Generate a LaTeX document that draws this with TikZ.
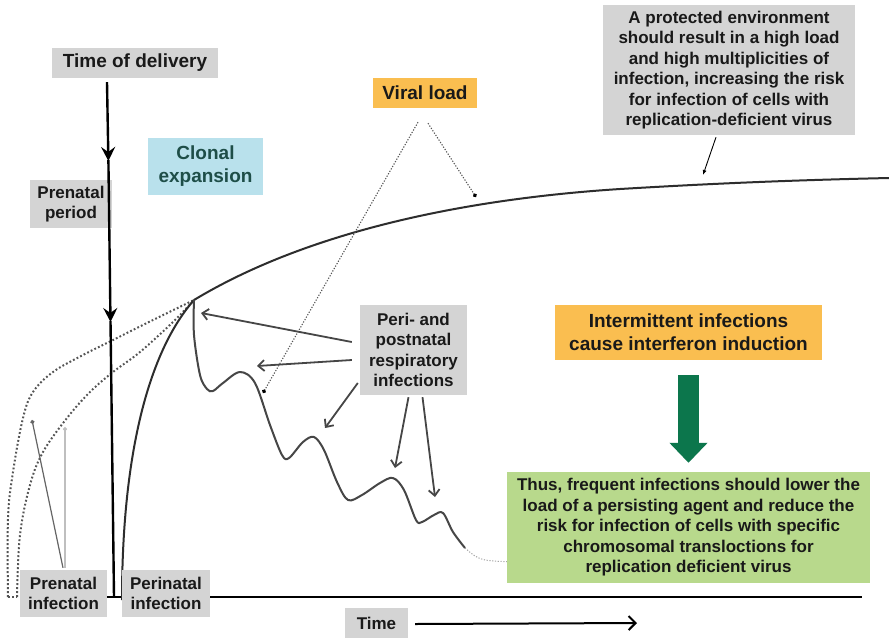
\documentclass[tikz,border=0pt]{standalone}
\usepackage{fontspec}
\setmainfont{Liberation Sans}
\usetikzlibrary{arrows.meta}
\definecolor{boxgray}{RGB}{212,212,212}
\definecolor{boxorange}{RGB}{250,190,80}
\definecolor{boxblue}{RGB}{185,225,236}
\definecolor{boxgreen}{RGB}{184,217,140}
\definecolor{arrowgreen}{RGB}{12,118,76}
\definecolor{clonaltext}{RGB}{30,78,72}
\definecolor{txt}{RGB}{25,25,25}
\definecolor{linegray}{RGB}{70,70,70}
\definecolor{curvegray}{RGB}{45,45,45}
\definecolor{dotgray}{RGB}{85,85,85}
\newcommand\bigfont{\fontsize{19}{23}\selectfont\bfseries}
\newcommand\smallfont{\fontsize{17}{20.5}\selectfont\bfseries}
\begin{document}
\begin{tikzpicture}[x=1pt,y=-1pt,
  box/.style={inner sep=0pt, align=center, text=txt},
  gbox/.style={box, fill=boxgray, font=\smallfont},
  bigbox/.style={box, font=\bigfont},
  dotcurve/.style={draw=dotgray, line width=2pt, dash pattern=on 1.8pt off 2.2pt},
  solidcurve/.style={draw=curvegray, line width=2pt, line join=round},
  periarrow/.style={draw=linegray, line width=1.8pt, -{Straight Barb[length=6pt,width=11pt]}},
  vdot/.style={draw=dotgray, line width=1.1pt, dash pattern=on 1.2pt off 1.6pt, -{Circle[length=4pt,fill=black,color=black]}},
  vaxis/.style={draw=black, line width=2.4pt},
  vtip/.style={-{Stealth[length=14pt,width=14pt,inset=5pt]}},
  pline/.style={line width=1.2pt, -{Circle[length=4pt]}}
]
\useasboundingbox (0,0) rectangle (889,638);
\fill[white] (0,0) rectangle (889,638);

% axis line (behind boxes)
\draw[line width=2.2pt] (106,597) -- (862,597);

% dotted prenatal curves
\draw[dotcurve] plot[smooth, tension=0.6] coordinates {(8,597) (8,518) (13,472) (23,418) (33,392) (53,372) (83,355) (113,340) (153,320) (194,300)};
\draw[dotcurve] plot[smooth, tension=0.6] coordinates {(17,597) (20,535) (30,485) (43,452) (67,418) (90,392) (113,372) (140,352) (173,322) (194,300)};
\draw[dotcurve] (8,597) -- (17,597);

% main solid curve
\draw[solidcurve] (122,600) .. controls (122,450) and (150,350) .. (194,300);
\draw[solidcurve] (194,300) .. controls (300,236) and (450,200) .. (620,189) .. controls (720,183) and (800,180) .. (889,178);

% wavy curve
\draw[solidcurve, draw=linegray] plot[smooth, tension=0.55] coordinates {(194,300) (194,335) (200,375) (207,389) (213,391) (223,383) (240,372) (255,383) (270,425) (282,455) (289,458) (303,442) (314,437) (324,450) (337,482) (348,500) (362,495) (380,483) (393,478) (404,490) (416,520) (422,522) (434,515) (443,513) (453,532) (465,548)};
\draw[draw=gray!70, line width=1pt, dash pattern=on 1.2pt off 1.6pt] (465,548) .. controls (480,561) .. (520,562);

% nodes
\node[bigbox, fill=boxgray, minimum width=166pt, minimum height=30pt] (tod) at (135,63) {Time of delivery};
\node[gbox, minimum width=82pt, minimum height=48pt] (prenper) at (71,204) {Prenatal\\period};
\node[bigbox, fill=boxblue, text=clonaltext, minimum width=115pt, minimum height=57pt] (clonal) at (205.5,166.5) {Clonal\\expansion};
\node[bigbox, fill=boxorange, minimum width=104pt, minimum height=30pt] (viral) at (425,93) {Viral load};
\node[gbox, minimum width=252pt, minimum height=130pt] (prot) at (729,70) {A protected environment\\should result in a high load\\and high multiplicities of\\infection, increasing the risk\\for infection of cells with\\replication-deficient virus};
\node[gbox, minimum width=107pt, minimum height=90pt] (peri) at (413.5,350) {Peri- and\\postnatal\\respiratory\\infections};
\node[bigbox, fill=boxorange, minimum width=267pt, minimum height=55pt] (interm) at (688.5,332.5) {Intermittent infections\\cause interferon induction};
\node[gbox, fill=boxgreen, minimum width=363pt, minimum height=111pt] (green) at (688.5,527.5) {Thus, frequent infections should lower the\\load of a persisting agent and reduce the\\risk for infection of cells with specific\\chromosomal transloctions for\\replication deficient virus};
\node[gbox, minimum width=87pt, minimum height=47pt] (preninf) at (63.5,593.5) {Prenatal\\infection};
\node[gbox, minimum width=88pt, minimum height=47pt] (perinf) at (166,593.5) {Perinatal\\infection};
\node[gbox, minimum width=63pt, minimum height=30pt] (timel) at (376.5,623) {Time};

% coordinates for free ends
\coordinate (a1) at (201,313);
\coordinate (a2) at (257,366);
\coordinate (a3) at (325,428);
\coordinate (a4) at (395,468);
\coordinate (a5) at (435,497);
\coordinate (v1) at (263,393);
\coordinate (v2) at (476,197);
\coordinate (pe) at (703,175);
\coordinate (pn1) at (32,420);
\coordinate (pn2) at (65,427);
\coordinate (vm1) at (108.4,161);
\coordinate (vm2) at (110.5,322);
\coordinate (vb) at (114,597);
\coordinate (tend) at (637,623);

% vertical time-of-delivery line
\draw[vaxis, vtip] ([xshift=-28pt,yshift=-4pt]tod.south) -- (vm1);
\draw[vaxis, vtip] ([yshift=1pt]vm1) -- (vm2);
\draw[vaxis] ([yshift=1pt]vm2) -- (vb);

% arrows from peri box
\draw[periarrow] ([xshift=-8pt,yshift=8pt]peri.west) -- (a1);
\draw[periarrow] ([xshift=-8pt,yshift=-10pt]peri.west) -- (a2);
\draw[periarrow] ([xshift=-2pt,yshift=-33pt]peri.west) -- (a3);
\draw[periarrow] ([xshift=-5pt,yshift=-2pt]peri.south) -- (a4);
\draw[periarrow] ([xshift=9pt,yshift=-2pt]peri.south) -- (a5);

% viral load dotted pointers
\draw[vdot] ([xshift=-7pt,yshift=-14pt]viral.south) -- (v1);
\draw[vdot] ([xshift=3pt,yshift=-15pt]viral.south) -- (v2);

% protected environment pointer
\draw[line width=0.9pt, -{Latex[length=5pt,width=4pt]}] ([xshift=-13pt,yshift=-2pt]prot.south) -- (pe);

% prenatal infection pointers
\draw[pline, draw=gray!80!black, fill=gray!80!black] ([xshift=-0.5pt,yshift=2pt]preninf.north) -- (pn1);
\draw[pline, draw=gray!50, fill=gray!50] ([xshift=1.5pt,yshift=2pt]preninf.north) -- (pn2);

% green thick arrow
\draw[arrowgreen, line width=21pt, -{Triangle[length=20pt,width=37pt]}] ([yshift=-15pt]interm.south) -- ([yshift=9pt]green.north);

% time arrow
\draw[line width=2pt, -{Straight Barb[length=7pt,width=14pt]}] ([xshift=7pt,yshift=-1pt]timel.east) -- (tend);
\end{tikzpicture}
\end{document}
